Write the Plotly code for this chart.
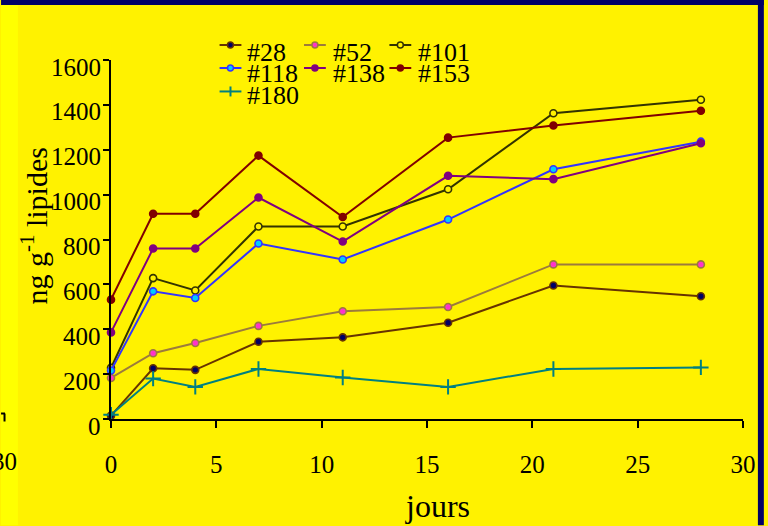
import plotly.graph_objects as go

jours = [0, 2, 4, 7, 11, 16, 21, 28]
s28 = [15, 226, 219, 344, 364, 429, 595, 547]
s52 = [183, 293, 339, 415, 480, 499, 689, 689]
s101 = [228, 628, 573, 858, 858, 1024, 1363, 1423]
s118 = [216, 569, 539, 782, 711, 889, 1113, 1236]
s138 = [386, 760, 760, 987, 791, 1084, 1069, 1229]
s153 = [532, 915, 915, 1174, 900, 1254, 1308, 1374]
s180 = [19, 180, 143, 223, 185, 143, 223, 230]

names = ["#28", "#52", "#101", "#118", "#138", "#153", "#180"]
y_ticks = [0, 200, 400, 600, 800, 1000, 1200, 1400, 1600]
x_ticks = [0, 5, 10, 15, 20, 25, 30]

W, H = 768, 526
L, R, T, B = 110.7, 21, 60, 106.5
PW, PH = W - L - R, H - T - B
FONT = "Liberation Serif"
BG = "#FFF200"
NAVY = "#000066"

styles = [
    dict(line="#663300", fill="#000066", symbol="circle"),
    dict(line="#9C7B3C", fill="#FF33CC", symbol="circle"),
    dict(line="#333300", fill=BG, symbol="circle"),
    dict(line="#3333FF", fill="#00CCFF", symbol="circle"),
    dict(line="#800080", fill="#800080", symbol="circle"),
    dict(line="#800000", fill="#800000", symbol="circle"),
    dict(line="#008080", fill="#008080", symbol="cross-thin"),
]
series = [s28, s52, s101, s118, s138, s153, s180]

def px(x):
    return (x - L) / PW

def py(y):
    return (H - B - y) / PH

fig = go.Figure()
for nm, ys, st in zip(names, series, styles):
    if st["symbol"] == "cross-thin":
        marker = dict(symbol="cross-thin", size=11, line=dict(color=st["line"], width=2))
    else:
        marker = dict(symbol="circle", size=7, color=st["fill"], line=dict(color=st["line"], width=1.6))
    fig.add_trace(go.Scatter(x=jours, y=ys, name=nm, mode="lines+markers",
                             line=dict(color=st["line"], width=2), marker=marker,
                             showlegend=False, cliponaxis=False))

shapes = []
annotations = []

# background strips / borders
shapes.append(dict(type="rect", xref="paper", yref="paper", x0=px(0), x1=px(17), y0=py(H), y1=py(0),
                   fillcolor="#FFFF00", line=dict(width=0), layer="below"))
shapes.append(dict(type="rect", xref="paper", yref="paper", x0=px(0), x1=px(W), y0=py(5), y1=py(0),
                   fillcolor=NAVY, line=dict(width=0), layer="above"))
shapes.append(dict(type="rect", xref="paper", yref="paper", x0=px(762), x1=px(W), y0=py(H), y1=py(0),
                   fillcolor=NAVY, line=dict(width=0), layer="above"))
shapes.append(dict(type="line", xref="paper", yref="paper", x0=px(0), x1=px(4), y0=py(414), y1=py(414),
                   line=dict(color="black", width=2)))
shapes.append(dict(type="line", xref="paper", yref="paper", x0=px(3.5), x1=px(3.5), y0=py(414), y1=py(422),
                   line=dict(color="black", width=2)))
annotations.append(dict(text="30", xref="paper", yref="paper", x=px(18), y=py(462), xanchor="right",
                        yanchor="middle", showarrow=False, font=dict(family=FONT, size=25, color="black")))

# y tick labels
for v in y_ticks:
    annotations.append(dict(text=str(v), xref="paper", yref="y", x=px(103), y=v, yshift=-7,
                            xanchor="right", yanchor="middle", showarrow=False,
                            font=dict(family=FONT, size=25, color="black")))

# axis titles
annotations.append(dict(text="jours", xref="paper", yref="paper", x=px(439), y=py(507),
                        xanchor="center", yanchor="middle", showarrow=False,
                        font=dict(family=FONT, size=32, color="black")))
annotations.append(dict(text="ng g<sup>-1</sup> lipides", xref="paper", yref="paper", x=px(33), y=py(226),
                        xanchor="center", yanchor="middle", textangle=-90, showarrow=False,
                        font=dict(family=FONT, size=30, color="black")))

# manual legend
sym_x = [231, 316, 402]
txt_x = [246, 332, 418]
sym_y = [45, 68, 91.5]
txt_y = [52, 74, 96]
for i, (nm, st) in enumerate(zip(names, styles)):
    r, c = divmod(i, 3)
    cx, cy = sym_x[c], sym_y[r]
    shapes.append(dict(type="line", xref="paper", yref="paper", x0=px(cx - 11), x1=px(cx + 11),
                       y0=py(cy), y1=py(cy), line=dict(color=st["line"], width=2)))
    if st["symbol"] == "cross-thin":
        shapes.append(dict(type="line", xref="paper", yref="paper", x0=px(cx), x1=px(cx),
                           y0=py(cy - 5), y1=py(cy + 5), line=dict(color=st["line"], width=2)))
    else:
        shapes.append(dict(type="circle", xref="paper", yref="paper", x0=px(cx - 3), x1=px(cx + 3),
                           y0=py(cy + 3), y1=py(cy - 3), fillcolor=st["fill"],
                           line=dict(color=st["line"], width=1.5)))
    annotations.append(dict(text=nm, xref="paper", yref="paper", x=px(txt_x[c]), y=py(txt_y[r]),
                            xanchor="left", yanchor="middle", showarrow=False,
                            font=dict(family=FONT, size=26, color="black")))

fig.update_layout(
    width=W, height=H,
    margin=dict(l=L, r=R, t=T, b=B, pad=0),
    paper_bgcolor=BG, plot_bgcolor=BG,
    font=dict(family=FONT, size=25, color="black"),
    shapes=shapes, annotations=annotations,
    showlegend=False,
)
fig.update_xaxes(range=[0, 30], tickvals=x_ticks, ticktext=[str(v) for v in x_ticks],
                 showgrid=False, zeroline=False, showline=True, linecolor="black", linewidth=2,
                 ticks="outside", ticklen=7, tickwidth=2, tickcolor="black",
                 tickfont=dict(family=FONT, size=25, color="black"), ticklabelstandoff=15)
fig.update_yaxes(range=[0, 1600], tickvals=y_ticks, showticklabels=False,
                 showgrid=False, zeroline=False, showline=True, linecolor="black", linewidth=2,
                 ticks="outside", ticklen=6, tickwidth=2, tickcolor="black")

fig.write_html("out.html", config={"displayModeBar": False},
               post_script="document.body.style.margin='0';document.body.style.overflow='hidden';")
